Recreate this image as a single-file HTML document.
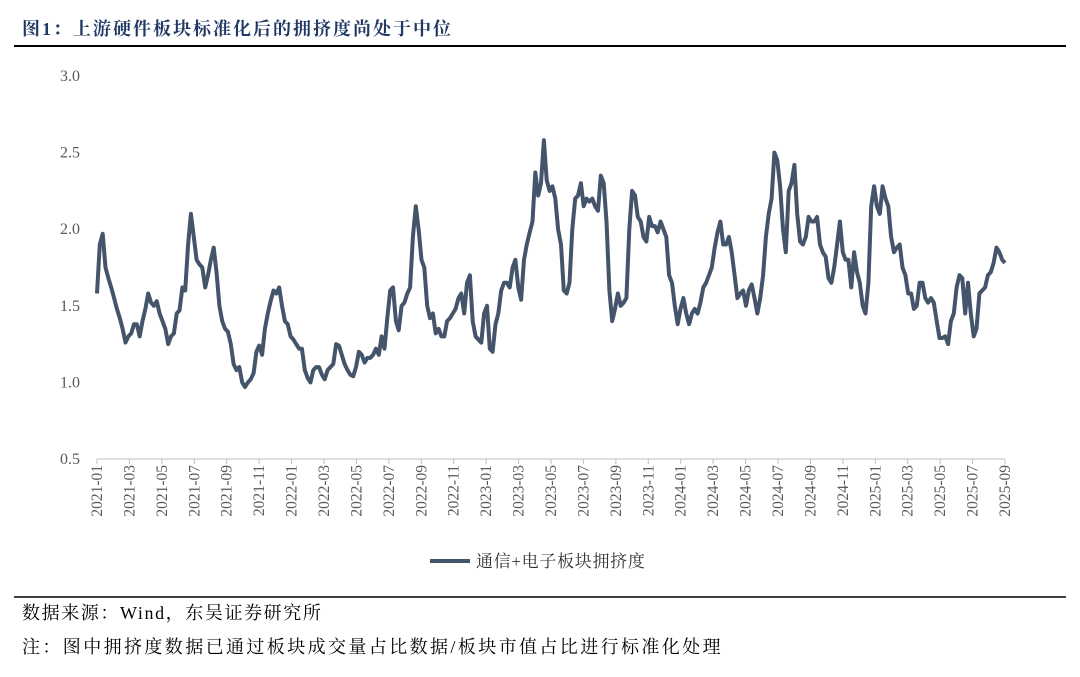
<!DOCTYPE html>
<html><head><meta charset="utf-8"><style>
body{margin:0;background:#fff;width:1080px;height:677px;overflow:hidden;font-family:"Liberation Serif","Noto Serif CJK SC",serif}
.t{position:absolute;left:22px;top:15px;font-size:18px;letter-spacing:2px;font-weight:bold;color:#1f3864;font-family:"Liberation Serif","Noto Serif CJK SC",serif}
</style></head><body>
<div class="t">图1：上游硬件板块标准化后的拥挤度尚处于中位</div>
<svg width="1080" height="677" style="position:absolute;left:0;top:0">
<line x1="14" y1="46" x2="1066" y2="46" stroke="#000" stroke-width="2"/>
<line x1="14" y1="597" x2="1066" y2="597" stroke="#000" stroke-width="1.5"/>
<g id="axes"></g>
<path id="series" fill="none" stroke="#44546a" stroke-width="4" stroke-linejoin="round"/>
<line x1="430" y1="561" x2="470" y2="561" stroke="#44546a" stroke-width="4"/>
<text x="476" y="567" font-size="17" letter-spacing="0.7" fill="#333" font-family="Liberation Serif, Noto Serif CJK SC, serif">通信+电子板块拥挤度</text>
<text x="22" y="619" font-size="18" letter-spacing="1.6" fill="#000" font-family="Liberation Serif, Noto Serif CJK SC, serif">数据来源：Wind，东吴证券研究所</text>
<text x="22" y="653" font-size="18" letter-spacing="2.4" fill="#000" font-family="Liberation Serif, Noto Serif CJK SC, serif">注：图中拥挤度数据已通过板块成交量占比数据/板块市值占比进行标准化处理</text>
</svg>
<script>
const yTicks=[0.5,1.0,1.5,2.0,2.5,3.0];
const xTicks=["2021-01","2021-03","2021-05","2021-07","2021-09","2021-11","2022-01","2022-03","2022-05","2022-07","2022-09","2022-11","2023-01","2023-03","2023-05","2023-07","2023-09","2023-11","2024-01","2024-03","2024-05","2024-07","2024-09","2024-11","2025-01","2025-03","2025-05","2025-07","2025-09"];
const values=[1.58,1.9,1.97,1.75,1.68,1.62,1.55,1.48,1.42,1.35,1.26,1.30,1.32,1.38,1.38,1.30,1.40,1.48,1.58,1.52,1.50,1.53,1.45,1.40,1.35,1.25,1.30,1.32,1.45,1.47,1.62,1.60,1.90,2.10,1.95,1.80,1.77,1.75,1.62,1.70,1.80,1.88,1.72,1.50,1.40,1.35,1.33,1.25,1.12,1.08,1.10,1.00,0.97,1.00,1.02,1.06,1.20,1.24,1.18,1.35,1.45,1.53,1.60,1.58,1.62,1.50,1.40,1.38,1.30,1.28,1.25,1.22,1.22,1.08,1.03,1.00,1.08,1.10,1.10,1.05,1.02,1.08,1.10,1.12,1.25,1.24,1.18,1.12,1.08,1.05,1.04,1.10,1.20,1.18,1.13,1.16,1.16,1.18,1.22,1.18,1.30,1.22,1.42,1.60,1.62,1.40,1.34,1.50,1.52,1.58,1.62,1.95,2.15,2.00,1.80,1.75,1.50,1.42,1.45,1.32,1.35,1.30,1.30,1.40,1.42,1.45,1.48,1.55,1.58,1.45,1.65,1.70,1.40,1.30,1.28,1.26,1.45,1.50,1.22,1.20,1.38,1.45,1.60,1.65,1.65,1.62,1.75,1.80,1.62,1.54,1.80,1.90,1.98,2.05,2.37,2.22,2.30,2.58,2.32,2.25,2.28,2.20,2.00,1.90,1.60,1.58,1.65,2.00,2.20,2.22,2.30,2.15,2.20,2.18,2.20,2.15,2.12,2.35,2.30,2.05,1.60,1.40,1.48,1.58,1.50,1.52,1.55,2.0,2.25,2.22,2.08,2.05,1.95,1.92,2.08,2.02,2.02,1.98,2.05,2.00,1.95,1.70,1.65,1.50,1.38,1.48,1.55,1.45,1.38,1.45,1.48,1.45,1.52,1.62,1.65,1.70,1.75,1.88,1.98,2.05,1.90,1.90,1.95,1.85,1.70,1.55,1.58,1.60,1.50,1.60,1.64,1.55,1.45,1.55,1.70,1.95,2.10,2.20,2.50,2.45,2.28,2.00,1.85,2.25,2.30,2.42,2.10,1.92,1.90,1.95,2.08,2.05,2.05,2.08,1.90,1.85,1.82,1.68,1.65,1.75,1.90,2.05,1.85,1.80,1.80,1.62,1.85,1.72,1.65,1.50,1.45,1.65,2.15,2.28,2.15,2.10,2.28,2.20,2.15,1.95,1.85,1.88,1.90,1.75,1.70,1.58,1.58,1.48,1.50,1.65,1.65,1.55,1.52,1.55,1.52,1.40,1.29,1.29,1.30,1.25,1.40,1.45,1.62,1.70,1.68,1.45,1.65,1.45,1.30,1.35,1.58,1.60,1.62,1.70,1.72,1.78,1.88,1.85,1.80,1.78];
const X0=97,X1=1005,Y0=459,Y1=76,V0=0.5,V1=3.0;
const yS=v=>Y0-(v-V0)/(V1-V0)*(Y0-Y1);
const xS=i=>X0+i/(values.length-1)*(X1-X0);
const xT=i=>X0+i/(xTicks.length-1)*(X1-X0);
const NS="http://www.w3.org/2000/svg";
const g=document.getElementById('axes');
const ax=document.createElementNS(NS,'line');
ax.setAttribute('x1',X0);ax.setAttribute('x2',X1);ax.setAttribute('y1',Y0);ax.setAttribute('y2',Y0);
ax.setAttribute('stroke','#bfbfbf');ax.setAttribute('stroke-width','1');


g.appendChild(ax);
yTicks.forEach(v=>{
 const t=document.createElementNS(NS,'text');
 t.setAttribute('x',80);t.setAttribute('y',yS(v)+5);t.setAttribute('text-anchor','end');
 t.setAttribute('font-size','16');t.setAttribute('fill','#595959');
 t.textContent=v.toFixed(1);
 
 
 g.appendChild(t);
});
xTicks.forEach((s,i)=>{
 const x=xT(i);
 const tk=document.createElementNS(NS,'line');
 tk.setAttribute('x1',x);tk.setAttribute('x2',x);tk.setAttribute('y1',Y0);tk.setAttribute('y2',Y0+5);
 tk.setAttribute('stroke','#bfbfbf');
 
 
 g.appendChild(tk);
 const t=document.createElementNS(NS,'text');
 t.setAttribute('transform',`translate(${x+5},${Y0+6}) rotate(-90)`);
 t.setAttribute('text-anchor','end');t.setAttribute('font-size','15.5');t.setAttribute('fill','#595959');
 t.textContent=s;
 
 
 g.appendChild(t);
});
document.getElementById('series').setAttribute('d',values.map((v,i)=>(i?'L':'M')+xS(i).toFixed(1)+','+yS(v).toFixed(1)).join(''));
</script>
</body></html>
